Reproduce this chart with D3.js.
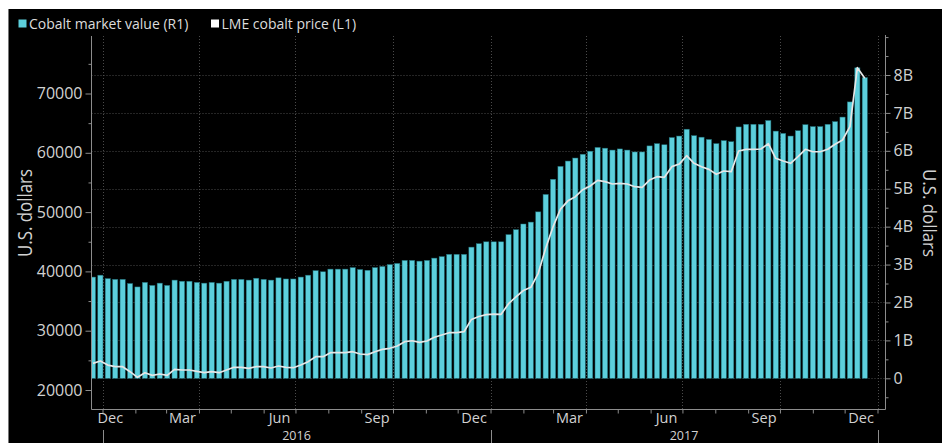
<!DOCTYPE html>
<html><head><meta charset="utf-8">
<script src="https://cdn.jsdelivr.net/npm/d3@7"></script>
<style>
html,body{margin:0;padding:0;background:#fff;}
svg{display:block;}
text{font-family:"Open Sans",sans-serif;}
</style></head>
<body>
<svg id="chart" width="942" height="443"></svg>
<script>
// ---------------- DATA ----------------
// weekly observations, first week Dec 23 2015, last Dec 20 2017
const firstWeek = new Date(2015, 11, 23);
const lastWeekEnd = new Date(2017, 11, 21);

// Cobalt market value (R1), billions of U.S. dollars
const marketValueB = [
  2.67,2.72,2.63,2.61,2.61,2.50,2.41,2.53,2.45,2.51,2.45,2.59,2.56,2.56,2.53,2.51,2.53,2.51,2.56,2.61,
  2.61,2.59,2.64,2.61,2.59,2.65,2.62,2.62,2.67,2.72,2.84,2.81,2.88,2.88,2.88,2.92,2.87,2.85,2.92,2.95,
  3.00,3.03,3.11,3.11,3.09,3.11,3.17,3.21,3.27,3.27,3.27,3.46,3.55,3.60,3.60,3.60,3.79,3.92,4.07,4.12,
  4.39,4.85,5.25,5.59,5.73,5.81,5.91,5.99,6.09,6.07,6.02,6.05,6.02,5.97,5.97,6.13,6.19,6.16,6.35,6.39,
  6.57,6.40,6.36,6.30,6.19,6.27,6.24,6.63,6.70,6.70,6.70,6.80,6.52,6.46,6.39,6.53,6.69,6.64,6.64,6.70,
  6.77,6.89,7.29,8.19,7.93
];
// LME cobalt price (L1), U.S. dollars per tonne
const lmePrice = [
  24500,24890,24200,23930,23930,23090,22140,22920,22470,22700,22470,23490,23370,23370,23150,22920,23090,22920,23370,23830,
  23830,23660,23930,23930,23710,24050,23830,23760,24220,24780,25620,25620,26290,26290,26290,26460,26070,25960,26460,26860,
  27030,27420,28150,28310,28040,28260,28890,29270,29660,29660,29830,31900,32400,32700,32800,32760,34560,35690,36780,37320,
  39680,43900,47540,50500,51900,52600,53780,54400,55350,55130,54740,54850,54740,54280,54180,55410,55970,55860,57660,58100,
  59510,58230,57660,57210,56370,56930,56810,60300,60590,60590,60640,61530,59070,58620,58230,59340,60590,60180,60180,60590,
  61430,62160,64400,74350,72560
];

const leftTicks = [20000, 30000, 40000, 50000, 60000, 70000];
const leftMinor = [25000, 35000, 45000, 55000, 65000, 75000];
const rightTicks = [0, 1, 2, 3, 4, 5, 6, 7, 8];
const rightTickLabels = ["0", "1B", "2B", "3B", "4B", "5B", "6B", "7B", "8B"];
const rightMinor = [-0.5, 0.5, 1.5, 2.5, 3.5, 4.5, 5.5, 6.5, 7.5, 8.5, 9];
const monthLabels = [
  {date: new Date(2015, 11, 1), label: "Dec"},
  {date: new Date(2016, 2, 1), label: "Mar"},
  {date: new Date(2016, 5, 1), label: "Jun"},
  {date: new Date(2016, 8, 1), label: "Sep"},
  {date: new Date(2016, 11, 1), label: "Dec"},
  {date: new Date(2017, 2, 1), label: "Mar"},
  {date: new Date(2017, 5, 1), label: "Jun"},
  {date: new Date(2017, 8, 1), label: "Sep"},
  {date: new Date(2017, 11, 1), label: "Dec"}
];
const yearLabels = ["2016", "2017"];
const legendItems = [
  {label: "Cobalt market value (R1)", color: "#5ccfdc"},
  {label: "LME cobalt price (L1)", color: "#ffffff"}
];

// ---------------- LAYOUT ----------------
const plotL = 91.5, plotR = 885.5, plotT = 36, plotB = 409.5;
const barColor = "#5ccfdc";
const gridColor = "#4a4a4a";
const axisColor = "#8c8c8c";
const labelColor = "#d2d2d2";

const svg = d3.select("#chart");

// black panel
svg.append("rect").attr("x", 8).attr("y", 9).attr("width", 934).attr("height", 434).attr("fill", "#000");
svg.append("line").attr("x1", 8.5).attr("x2", 8.5).attr("y1", 9).attr("y2", 443).attr("stroke", "#777").attr("stroke-width", 1);

const weeks = d3.timeWednesday.range(firstWeek, lastWeekEnd);
const data = weeks.map((d, i) => ({date: d, mv: marketValueB[i], px: lmePrice[i]}));

const x = d3.scaleTime().domain([new Date(2016, 0, 1), new Date(2018, 0, 1)]).range([102.5, 877.5]);
const yL = d3.scaleLinear().domain([20000, 70000]).range([390, 93.5]);
const yR = d3.scaleLinear().domain([0, 8]).range([378.3, 75]);

svg.append("clipPath").attr("id", "plotclip")
  .append("rect").attr("x", plotL + 0.5).attr("y", plotT).attr("width", plotR - plotL - 1).attr("height", plotB - plotT);

// grid
const quarters = d3.timeMonth.every(3).range(new Date(2016, 0, 1), new Date(2018, 0, 2));
const grid = svg.append("g");
grid.selectAll("line.v").data(quarters).join("line")
  .attr("x1", d => Math.round(x(d)) + 0.5).attr("x2", d => Math.round(x(d)) + 0.5)
  .attr("y1", plotT).attr("y2", plotB)
  .attr("stroke", gridColor).attr("stroke-width", 1).attr("stroke-dasharray", "1,2");
grid.selectAll("line.h").data(rightTicks).join("line")
  .attr("x1", plotL).attr("x2", plotR)
  .attr("y1", d => Math.round(yR(d)) + 0.5).attr("y2", d => Math.round(yR(d)) + 0.5)
  .attr("stroke", gridColor).attr("stroke-width", 1).attr("stroke-dasharray", "1,2");

// bars
const barW = 5.2;
const plot = svg.append("g").attr("clip-path", "url(#plotclip)");
plot.selectAll("rect.bar").data(data).join("rect")
  .attr("class", "bar")
  .attr("x", d => x(d.date) - barW / 2)
  .attr("width", barW)
  .attr("y", d => yR(d.mv))
  .attr("height", d => yR(0) - yR(d.mv))
  .attr("fill", barColor)
  .attr("stroke", "#1f6d76").attr("stroke-width", 0.5);

// line
const line = d3.line().x(d => x(d.date)).y(d => yL(d.px));
plot.append("path").datum(data).attr("d", line)
  .attr("fill", "none").attr("stroke", "#e6e6e6").attr("stroke-width", 1.7).attr("stroke-linejoin", "round");

// axes frame
svg.append("line").attr("x1", plotL).attr("x2", plotL).attr("y1", plotT).attr("y2", plotB).attr("stroke", axisColor);
svg.append("line").attr("x1", plotR).attr("x2", plotR).attr("y1", plotT - 1).attr("y2", plotB).attr("stroke", axisColor);
svg.append("line").attr("x1", plotL).attr("x2", plotR).attr("y1", plotB).attr("y2", plotB).attr("stroke", axisColor);

// left axis
const gL = svg.append("g").attr("transform", `translate(${plotL},0)`)
  .call(d3.axisLeft(yL).tickValues(leftTicks).tickSize(6).tickPadding(3).tickFormat(d3.format("d")));
gL.select(".domain").remove();
gL.selectAll(".tick line").attr("stroke", axisColor);
gL.selectAll(".tick text").attr("fill", labelColor).style("font-size", "16px").style("font-family", "Open Sans");
const gLm = svg.append("g").attr("transform", `translate(${plotL},0)`)
  .call(d3.axisLeft(yL).tickValues(leftMinor).tickSize(3).tickFormat(""));
gLm.select(".domain").remove();
gLm.selectAll(".tick line").attr("stroke", axisColor);

// right axis
const gR = svg.append("g").attr("transform", `translate(${plotR},0)`)
  .call(d3.axisRight(yR).tickValues(rightTicks).tickSize(5).tickPadding(3).tickFormat((d, i) => rightTickLabels[i]));
gR.select(".domain").remove();
gR.selectAll(".tick line").attr("stroke", axisColor);
gR.selectAll(".tick text").attr("fill", labelColor).style("font-size", "16px").style("font-family", "Open Sans");
const gRm = svg.append("g").attr("transform", `translate(${plotR},0)`)
  .call(d3.axisRight(yR).tickValues(rightMinor).tickSize(3).tickFormat(""));
gRm.select(".domain").remove();
gRm.selectAll(".tick line").attr("stroke", axisColor);

// bottom axis: month ticks
const months = d3.timeMonth.range(new Date(2016, 0, 1), new Date(2018, 0, 2));
const gB = svg.append("g").attr("transform", `translate(0,${plotB})`)
  .call(d3.axisBottom(x).tickValues(months).tickSize(4).tickFormat(""));
gB.select(".domain").remove();
gB.selectAll(".tick line").attr("stroke", axisColor);

// year dividers (second row)
const yearStarts = [new Date(2016, 0, 1), new Date(2017, 0, 1), new Date(2018, 0, 1)];
svg.selectAll("line.yd").data(yearStarts).join("line")
  .attr("x1", d => Math.round(x(d)) + 0.5).attr("x2", d => Math.round(x(d)) + 0.5)
  .attr("y1", 430).attr("y2", 443).attr("stroke", axisColor);

// month labels centred in month interval
svg.selectAll("text.month").data(monthLabels).join("text")
  .attr("class", "month")
  .attr("fill", labelColor).style("font-size", "14.5px")
  .attr("y", 423)
  .text(d => d.label)
  .each(function(d) {
    const next = d3.timeMonth.offset(d.date, 1);
    let cx = (x(d.date) + x(next)) / 2;
    const w = this.getComputedTextLength();
    if (cx - w / 2 < plotL + 6) cx = plotL + 6 + w / 2;
    d3.select(this).attr("x", cx).attr("text-anchor", "middle");
  });

// year labels
svg.selectAll("text.year").data(yearLabels).join("text")
  .attr("class", "year")
  .attr("fill", labelColor).style("font-size", "12.5px")
  .attr("text-anchor", "middle")
  .attr("x", (d, i) => (x(yearStarts[i]) + x(yearStarts[i + 1])) / 2)
  .attr("y", 439.5)
  .text(d => d);

// axis titles
svg.append("text").attr("transform", "translate(32,213) rotate(-90)")
  .attr("text-anchor", "middle").attr("fill", labelColor).style("font-size", "20px")
  .attr("textLength", 88).attr("lengthAdjust", "spacingAndGlyphs")
  .text("U.S. dollars");
svg.append("text").attr("transform", "translate(923,213) rotate(90)")
  .attr("text-anchor", "middle").attr("fill", labelColor).style("font-size", "19px")
  .attr("textLength", 88).attr("lengthAdjust", "spacingAndGlyphs")
  .text("U.S. dollars");

// legend
const legendX = [18.5, 211];
const lg = svg.append("g");
legendItems.forEach((it, i) => {
  lg.append("rect").attr("x", legendX[i]).attr("y", 19.5).attr("width", 8).attr("height", 8).attr("fill", it.color);
  lg.append("text").attr("x", legendX[i] + 10.5).attr("y", 28.5)
    .attr("fill", "#dcdcdc").style("font-size", "14px").text(it.label);
});
</script>
</body></html>
